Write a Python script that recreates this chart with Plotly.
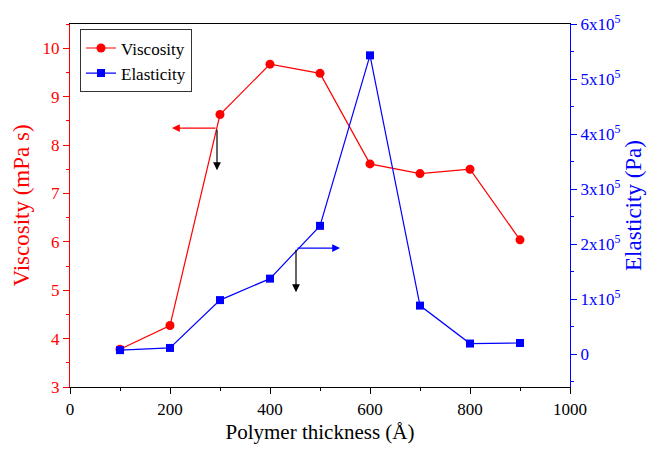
import plotly.graph_objects as go

thickness = [100, 200, 300, 400, 500, 600, 700, 800, 900]
viscosity = [3.78, 4.27, 8.63, 9.67, 9.48, 7.61, 7.41, 7.50, 6.04]
elasticity = [7000, 11000, 98000, 137000, 233000, 543000, 88000, 19000, 20000]

e_tickvals = [0, 100000, 200000, 300000, 400000, 500000, 600000]
e_ticktext = ["0"] + [f"{i}x10<sup>5</sup>" for i in range(1, 7)]

FONT = "Liberation Serif, Times New Roman, serif"
RED = "#ff0000"
BLUE = "#0000ff"

fig = go.Figure()
fig.add_trace(go.Scatter(
    x=thickness, y=viscosity, name="Viscosity", mode="lines+markers",
    line=dict(color=RED, width=1.2),
    marker=dict(symbol="circle", size=9, color=RED),
))
fig.add_trace(go.Scatter(
    x=thickness, y=elasticity, name="Elasticity", mode="lines+markers",
    yaxis="y2",
    line=dict(color=BLUE, width=1.2),
    marker=dict(symbol="square", size=8, color=BLUE),
))

# direction arrows pointing each curve to its axis
arrows = [
    dict(x=204, y=8.35, ax=45, ay=0, color=RED),
    dict(x=294, y=7.48, ax=0, ay=-42, color="black"),
    dict(x=540, y=5.87, ax=-44, ay=0, color=BLUE),
    dict(x=452, y=4.96, ax=0, ay=-44, color="black"),
]
for a in arrows:
    fig.add_annotation(
        x=a["x"], y=a["y"], xref="x", yref="y", ax=a["ax"], ay=a["ay"],
        text="", showarrow=True, arrowhead=2, arrowsize=1.3,
        arrowwidth=1.2, arrowcolor=a["color"],
    )

fig.update_layout(
    width=652, height=449,
    margin=dict(l=70, r=82, t=24, b=62),
    plot_bgcolor="white", paper_bgcolor="white",
    font=dict(family=FONT, size=17, color="black"),
    showlegend=True,
    legend=dict(
        x=0.02, y=0.985, xanchor="left", yanchor="top",
        bordercolor="#333333", borderwidth=1, bgcolor="white",
        font=dict(family=FONT, size=17),
        tracegroupgap=0, itemwidth=30,
    ),
    xaxis=dict(
        range=[0, 1000], tickvals=[0, 200, 400, 600, 800, 1000],
        automargin=False,
        showgrid=False, zeroline=False,
        showline=True, linecolor="black", linewidth=1.2, mirror=True,
        ticks="outside", ticklen=6, tickcolor="black",
        minor=dict(dtick=100, ticks="outside", ticklen=3, tickcolor="black"),
        title=dict(text="Polymer thickness (Å)", font=dict(family=FONT, size=21), standoff=6),
        tickfont=dict(family=FONT, size=17),
    ),
    yaxis=dict(
        range=[3, 10.5], dtick=1,
        automargin=False,
        showgrid=False, zeroline=False,
        showline=True, linecolor=RED, linewidth=1.2,
        ticks="outside", ticklen=6, tickcolor=RED,
        minor=dict(dtick=0.5, ticks="outside", ticklen=3, tickcolor=RED),
        tickfont=dict(family=FONT, size=17, color=RED),
        title=dict(text="Viscosity (mPa s)", font=dict(family=FONT, size=23, color=RED), standoff=6),
    ),
    yaxis2=dict(
        overlaying="y", side="right",
        range=[-60000, 600000],
        tickvals=e_tickvals, ticktext=e_ticktext,
        automargin=False,
        showgrid=False, zeroline=False,
        showline=True, linecolor=BLUE, linewidth=1.2,
        ticks="outside", ticklen=6, tickcolor=BLUE,
        minor=dict(dtick=50000, ticks="outside", ticklen=3, tickcolor=BLUE),
        tickfont=dict(family=FONT, size=17, color=BLUE),
        title=dict(text="Elasticity (Pa)", font=dict(family=FONT, size=23, color=BLUE), standoff=2),
    ),
)

fig.write_html("out.html")
